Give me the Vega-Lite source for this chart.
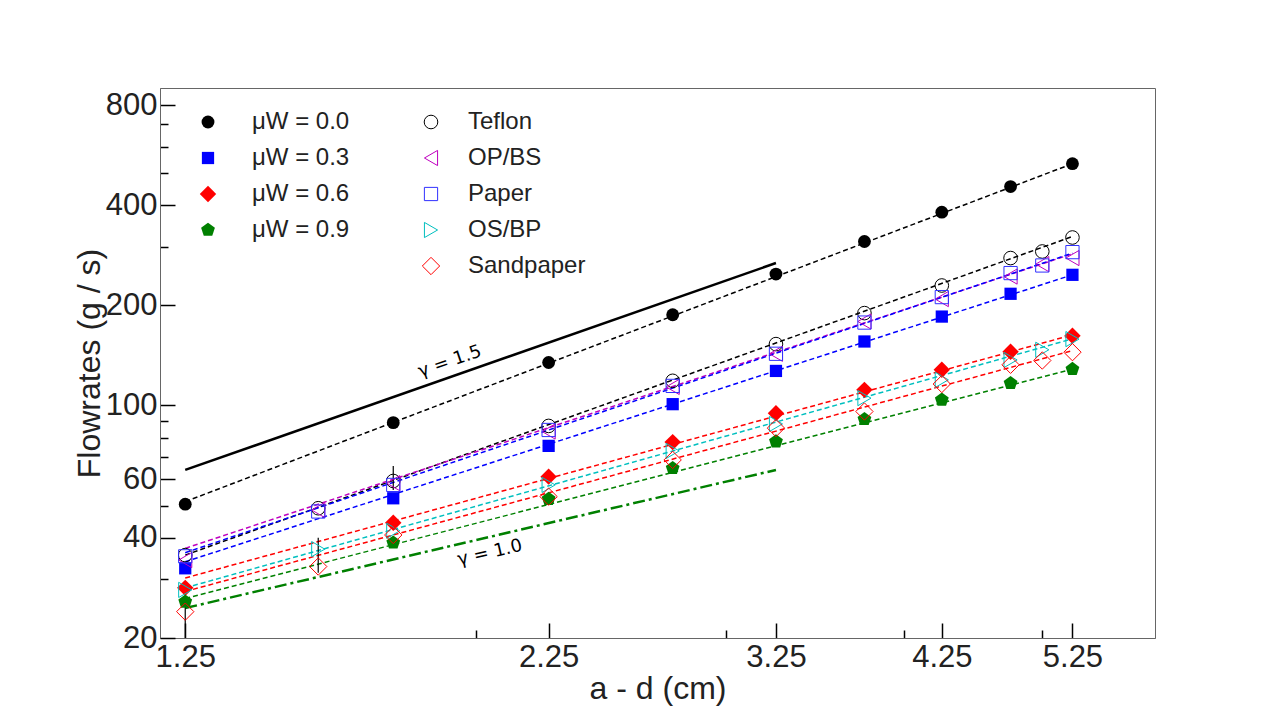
{
  "$schema": "https://vega.github.io/schema/vega-lite/v6.json",
  "description": "Flowrates versus a - d on log-log axes, with power-law fits.",
  "autosize": {"type": "none"},
  "width": 995,
  "height": 550,
  "padding": {"left": 160, "top": 88, "right": 125, "bottom": 82},
  "background": "white",
  "config": {
    "view": {"stroke": "#666666", "strokeWidth": 1},
    "font": "Liberation Sans",
    "axis": {"domainColor": "#666666", "tickColor": "black", "grid": false}
  },
  "datasets": {
    "pts": [
      {"g": "mu", "s": "μW = 0.0", "x": 1.25, "y": 50.5},
      {"g": "mu", "s": "μW = 0.0", "x": 1.75, "y": 88.8},
      {"g": "mu", "s": "μW = 0.0", "x": 2.25, "y": 134.6},
      {"g": "mu", "s": "μW = 0.0", "x": 2.75, "y": 187.3},
      {"g": "mu", "s": "μW = 0.0", "x": 3.25, "y": 248.3},
      {"g": "mu", "s": "μW = 0.0", "x": 3.75, "y": 311},
      {"g": "mu", "s": "μW = 0.0", "x": 4.25, "y": 381},
      {"g": "mu", "s": "μW = 0.0", "x": 4.75, "y": 455},
      {"g": "mu", "s": "μW = 0.0", "x": 5.25, "y": 533},
      {"g": "mu", "s": "μW = 0.3", "x": 1.25, "y": 32.4},
      {"g": "mu", "s": "μW = 0.3", "x": 1.75, "y": 52.6},
      {"g": "mu", "s": "μW = 0.3", "x": 2.25, "y": 75.6},
      {"g": "mu", "s": "μW = 0.3", "x": 2.75, "y": 100.9},
      {"g": "mu", "s": "μW = 0.3", "x": 3.25, "y": 127},
      {"g": "mu", "s": "μW = 0.3", "x": 3.75, "y": 155.7},
      {"g": "mu", "s": "μW = 0.3", "x": 4.25, "y": 185},
      {"g": "mu", "s": "μW = 0.3", "x": 4.75, "y": 216.6},
      {"g": "mu", "s": "μW = 0.3", "x": 5.25, "y": 247},
      {"g": "mu", "s": "μW = 0.6", "x": 1.25, "y": 28.3},
      {"g": "mu", "s": "μW = 0.6", "x": 1.75, "y": 44.4},
      {"g": "mu", "s": "μW = 0.6", "x": 2.25, "y": 61.1},
      {"g": "mu", "s": "μW = 0.6", "x": 2.75, "y": 77.6},
      {"g": "mu", "s": "μW = 0.6", "x": 3.25, "y": 94.8},
      {"g": "mu", "s": "μW = 0.6", "x": 3.75, "y": 111.4},
      {"g": "mu", "s": "μW = 0.6", "x": 4.25, "y": 128},
      {"g": "mu", "s": "μW = 0.6", "x": 4.75, "y": 145},
      {"g": "mu", "s": "μW = 0.6", "x": 5.25, "y": 162},
      {"g": "mu", "s": "μW = 0.9", "x": 1.25, "y": 25.7},
      {"g": "mu", "s": "μW = 0.9", "x": 1.75, "y": 38.7},
      {"g": "mu", "s": "μW = 0.9", "x": 2.25, "y": 52.3},
      {"g": "mu", "s": "μW = 0.9", "x": 2.75, "y": 64.8},
      {"g": "mu", "s": "μW = 0.9", "x": 3.25, "y": 77.9},
      {"g": "mu", "s": "μW = 0.9", "x": 3.75, "y": 90.9},
      {"g": "mu", "s": "μW = 0.9", "x": 4.25, "y": 104},
      {"g": "mu", "s": "μW = 0.9", "x": 4.75, "y": 116.7},
      {"g": "mu", "s": "μW = 0.9", "x": 5.25, "y": 128.6},
      {"g": "mat", "s": "Teflon", "x": 1.25, "y": 35.5},
      {"g": "mat", "s": "Teflon", "x": 1.55, "y": 49.1},
      {"g": "mat", "s": "Teflon", "x": 1.75, "y": 59.3},
      {"g": "mat", "s": "Teflon", "x": 2.25, "y": 86.8},
      {"g": "mat", "s": "Teflon", "x": 2.75, "y": 118.6},
      {"g": "mat", "s": "Teflon", "x": 3.25, "y": 152.9},
      {"g": "mat", "s": "Teflon", "x": 3.75, "y": 189.5},
      {"g": "mat", "s": "Teflon", "x": 4.25, "y": 229.4},
      {"g": "mat", "s": "Teflon", "x": 4.75, "y": 277.4},
      {"g": "mat", "s": "Teflon", "x": 5.0, "y": 290.3},
      {"g": "mat", "s": "Teflon", "x": 5.25, "y": 319.8},
      {"g": "mat", "s": "OP/BS", "x": 1.25, "y": 34.3},
      {"g": "mat", "s": "OP/BS", "x": 1.55, "y": 48.5},
      {"g": "mat", "s": "OP/BS", "x": 1.75, "y": 58.4},
      {"g": "mat", "s": "OP/BS", "x": 2.25, "y": 83.5},
      {"g": "mat", "s": "OP/BS", "x": 2.75, "y": 113.7},
      {"g": "mat", "s": "OP/BS", "x": 3.25, "y": 143},
      {"g": "mat", "s": "OP/BS", "x": 3.75, "y": 178.8},
      {"g": "mat", "s": "OP/BS", "x": 4.25, "y": 208.8},
      {"g": "mat", "s": "OP/BS", "x": 4.75, "y": 244},
      {"g": "mat", "s": "OP/BS", "x": 5.0, "y": 266},
      {"g": "mat", "s": "OP/BS", "x": 5.25, "y": 277.4},
      {"g": "mat", "s": "Paper", "x": 1.25, "y": 35.2},
      {"g": "mat", "s": "Paper", "x": 1.55, "y": 48},
      {"g": "mat", "s": "Paper", "x": 1.75, "y": 57.7},
      {"g": "mat", "s": "Paper", "x": 2.25, "y": 84.4},
      {"g": "mat", "s": "Paper", "x": 2.75, "y": 114.5},
      {"g": "mat", "s": "Paper", "x": 3.25, "y": 143},
      {"g": "mat", "s": "Paper", "x": 3.75, "y": 177.5},
      {"g": "mat", "s": "Paper", "x": 4.25, "y": 211.7},
      {"g": "mat", "s": "Paper", "x": 4.75, "y": 250},
      {"g": "mat", "s": "Paper", "x": 5.0, "y": 263.5},
      {"g": "mat", "s": "Paper", "x": 5.25, "y": 289},
      {"g": "mat", "s": "OS/BP", "x": 1.25, "y": 27.9},
      {"g": "mat", "s": "OS/BP", "x": 1.55, "y": 37},
      {"g": "mat", "s": "OS/BP", "x": 1.75, "y": 42},
      {"g": "mat", "s": "OS/BP", "x": 2.25, "y": 57.7},
      {"g": "mat", "s": "OS/BP", "x": 2.75, "y": 73},
      {"g": "mat", "s": "OS/BP", "x": 3.25, "y": 88},
      {"g": "mat", "s": "OS/BP", "x": 3.75, "y": 105.2},
      {"g": "mat", "s": "OS/BP", "x": 4.25, "y": 119.4},
      {"g": "mat", "s": "OS/BP", "x": 4.75, "y": 137},
      {"g": "mat", "s": "OS/BP", "x": 5.0, "y": 147},
      {"g": "mat", "s": "OS/BP", "x": 5.25, "y": 158.3},
      {"g": "mat", "s": "Sandpaper", "x": 1.25, "y": 24},
      {"g": "mat", "s": "Sandpaper", "x": 1.55, "y": 32.8},
      {"g": "mat", "s": "Sandpaper", "x": 1.75, "y": 40.8},
      {"g": "mat", "s": "Sandpaper", "x": 2.25, "y": 53.2},
      {"g": "mat", "s": "Sandpaper", "x": 2.75, "y": 68.6},
      {"g": "mat", "s": "Sandpaper", "x": 3.25, "y": 85.5},
      {"g": "mat", "s": "Sandpaper", "x": 3.75, "y": 95.9},
      {"g": "mat", "s": "Sandpaper", "x": 4.25, "y": 116},
      {"g": "mat", "s": "Sandpaper", "x": 4.75, "y": 132.5},
      {"g": "mat", "s": "Sandpaper", "x": 5.0, "y": 136.5},
      {"g": "mat", "s": "Sandpaper", "x": 5.25, "y": 144.6}
    ],
    "fits": [
      {"s": "μW = 0.0", "x": 1.25, "y": 51.4},
      {"s": "μW = 0.0", "x": 5.25, "y": 533},
      {"s": "μW = 0.3", "x": 1.25, "y": 33.9},
      {"s": "μW = 0.3", "x": 5.25, "y": 247},
      {"s": "μW = 0.6", "x": 1.25, "y": 30.3},
      {"s": "μW = 0.6", "x": 5.25, "y": 163},
      {"s": "μW = 0.9", "x": 1.25, "y": 26.3},
      {"s": "μW = 0.9", "x": 5.25, "y": 128.6},
      {"s": "Teflon", "x": 1.25, "y": 35.5},
      {"s": "Teflon", "x": 5.25, "y": 322},
      {"s": "OP/BS", "x": 1.25, "y": 37.2},
      {"s": "OP/BS", "x": 5.25, "y": 285.7},
      {"s": "Paper", "x": 1.25, "y": 36.1},
      {"s": "Paper", "x": 5.25, "y": 287},
      {"s": "OS/BP", "x": 1.25, "y": 28.3},
      {"s": "OS/BP", "x": 5.25, "y": 158.6},
      {"s": "Sandpaper", "x": 1.25, "y": 27.6},
      {"s": "Sandpaper", "x": 5.25, "y": 146.2}
    ],
    "gamma15": [
      {"x": 1.25, "y": 64},
      {"x": 3.25, "y": 268}
    ],
    "gamma10": [
      {"x": 1.25, "y": 24.6},
      {"x": 3.25, "y": 64}
    ],
    "err": [
      {"x": 1.25, "lo": 18, "hi": 26.5},
      {"x": 1.55, "lo": 31.4, "hi": 40},
      {"x": 1.75, "lo": 55.7, "hi": 65.8}
    ]
  },
  "encoding": {
    "x": {
      "field": "x",
      "type": "quantitative",
      "scale": {"type": "log", "domain": [1.2, 6], "nice": false},
      "axis": {
        "title": "a - d (cm)",
        "titleFontSize": 32,
        "titleFontWeight": "normal",
        "titleColor": "#222222",
        "titlePadding": -6,
        "values": [1.25, 2, 2.25, 3, 3.25, 4, 4.25, 5, 5.25],
        "labelExpr": "datum.value % 1 == 0.25 ? format(datum.value, '.2f') : ''",
        "labelFontSize": 31,
        "labelColor": "#222222",
        "labelPadding": 19,
        "labelFlush": false,
        "labelOverlap": false,
        "tickSize": {"condition": {"test": "datum.value % 1 == 0.25", "value": -15}, "value": -8},
        "tickWidth": 1.5
      }
    },
    "y": {
      "field": "y",
      "type": "quantitative",
      "scale": {"type": "log", "domain": [20, 900], "nice": false},
      "axis": {
        "title": "Flowrates (g / s)",
        "titleFontSize": 32,
        "titleFontWeight": "normal",
        "titleColor": "#222222",
        "titlePadding": -1,
        "values": [20, 30, 40, 50, 60, 70, 80, 90, 100, 200, 300, 400, 500, 600, 700, 800],
        "labelExpr": "indexof([20, 40, 60, 100, 200, 400, 800], datum.value) >= 0 ? format(datum.value, 'd') : ''",
        "labelFontSize": 31,
        "labelColor": "#222222",
        "labelPadding": 18,
        "labelFlush": false,
        "labelOverlap": false,
        "tickSize": {"condition": {"test": "indexof([20, 40, 60, 100, 200, 400, 800], datum.value) >= 0", "value": -15}, "value": -8},
        "tickWidth": 1.5
      }
    }
  },
  "layer": [
    {
      "data": {"name": "gamma15"},
      "mark": {"type": "line", "color": "black", "strokeWidth": 2.5}
    },
    {
      "data": {"name": "gamma10"},
      "mark": {"type": "line", "color": "#008000", "strokeWidth": 2.5, "strokeDash": [12, 4, 3, 4]}
    },
    {
      "data": {"name": "fits"},
      "mark": {"type": "line", "strokeWidth": 1.5, "strokeDash": [5, 3]},
      "encoding": {
        "detail": {"field": "s"},
        "color": {
          "field": "s",
          "type": "nominal",
          "scale": {
            "domain": ["μW = 0.0", "μW = 0.3", "μW = 0.6", "μW = 0.9", "Teflon", "OP/BS", "Paper", "OS/BP", "Sandpaper"],
            "range": ["black", "#0000ff", "#ff0000", "#008000", "black", "#bf00bf", "#0000ff", "#00bfbf", "#ff0000"]
          },
          "legend": null
        }
      }
    },
    {
      "data": {"name": "err"},
      "mark": {"type": "rule", "color": "black", "strokeWidth": 1.2, "clip": true},
      "encoding": {
        "y": {"field": "lo", "type": "quantitative"},
        "y2": {"field": "hi"}
      }
    },
    {
      "data": {"name": "pts"},
      "transform": [{"filter": "datum.g == 'mu'"}],
      "mark": {"type": "point", "filled": true, "opacity": 1},
      "encoding": {
        "color": {
          "field": "s",
          "type": "nominal",
          "scale": {
            "domain": ["μW = 0.0", "μW = 0.3", "μW = 0.6", "μW = 0.9"],
            "range": ["black", "#0000ff", "#ff0000", "#008000"]
          },
          "legend": {
            "title": null,
            "orient": "none",
            "legendX": 36,
            "legendY": 22,
            "labelFontSize": 24,
            "labelColor": "#222222",
            "labelOffset": 32,
            "rowPadding": 12,
            "padding": 0
          }
        },
        "shape": {
          "field": "s",
          "type": "nominal",
          "scale": {
            "domain": ["μW = 0.0", "μW = 0.3", "μW = 0.6", "μW = 0.9"],
            "range": ["circle", "square", "diamond", "M0,-1L0.951,-0.309L0.588,0.809L-0.588,0.809L-0.951,-0.309Z"]
          },
          "legend": {
            "title": null,
            "orient": "none",
            "legendX": 36,
            "legendY": 22,
            "labelFontSize": 24,
            "labelColor": "#222222",
            "labelOffset": 32,
            "rowPadding": 12,
            "padding": 0
          }
        },
        "size": {
          "field": "s",
          "type": "nominal",
          "scale": {
            "type": "ordinal",
            "domain": ["μW = 0.0", "μW = 0.3", "μW = 0.6", "μW = 0.9"],
            "range": [165, 150, 270, 210]
          },
          "legend": {
            "title": null,
            "orient": "none",
            "legendX": 36,
            "legendY": 22,
            "labelFontSize": 24,
            "labelColor": "#222222",
            "labelOffset": 32,
            "rowPadding": 12,
            "padding": 0
          }
        }
      }
    },
    {
      "data": {"name": "pts"},
      "transform": [{"filter": "datum.g == 'mat'"}],
      "mark": {"type": "point", "filled": false, "strokeWidth": 1, "opacity": 1},
      "encoding": {
        "color": {
          "field": "s",
          "type": "nominal",
          "scale": {
            "domain": ["Teflon", "OP/BS", "Paper", "OS/BP", "Sandpaper"],
            "range": ["black", "#bf00bf", "#3030ff", "#00bfbf", "#ff0000"]
          },
          "legend": {
            "title": null,
            "orient": "none",
            "legendX": 259,
            "legendY": 22,
            "labelFontSize": 24,
            "labelColor": "#222222",
            "labelOffset": 25,
            "rowPadding": 12,
            "symbolStrokeWidth": 1,
            "padding": 0
          }
        },
        "shape": {
          "field": "s",
          "type": "nominal",
          "scale": {
            "domain": ["Teflon", "OP/BS", "Paper", "OS/BP", "Sandpaper"],
            "range": ["circle", "triangle-left", "square", "triangle-right", "diamond"]
          },
          "legend": {
            "title": null,
            "orient": "none",
            "legendX": 259,
            "legendY": 22,
            "labelFontSize": 24,
            "labelColor": "#222222",
            "labelOffset": 25,
            "rowPadding": 12,
            "symbolStrokeWidth": 1,
            "padding": 0
          }
        },
        "size": {
          "field": "s",
          "type": "nominal",
          "scale": {
            "type": "ordinal",
            "domain": ["Teflon", "OP/BS", "Paper", "OS/BP", "Sandpaper"],
            "range": [185, 230, 175, 230, 300]
          },
          "legend": {
            "title": null,
            "orient": "none",
            "legendX": 259,
            "legendY": 22,
            "labelFontSize": 24,
            "labelColor": "#222222",
            "labelOffset": 25,
            "rowPadding": 12,
            "symbolStrokeWidth": 1,
            "padding": 0
          }
        }
      }
    },
    {
      "data": {"values": [{"x": 1.918, "y": 135.3, "t": "γ = 1.5"}]},
      "mark": {"type": "text", "font": "DejaVu Sans", "fontSize": 18, "angle": -19, "color": "black"},
      "encoding": {"text": {"field": "t"}}
    },
    {
      "data": {"values": [{"x": 2.046, "y": 36.0, "t": "γ = 1.0"}]},
      "mark": {"type": "text", "font": "DejaVu Sans", "fontSize": 18, "angle": -13, "color": "black"},
      "encoding": {"text": {"field": "t"}}
    }
  ],
  "resolve": {"scale": {"color": "independent", "shape": "independent", "size": "independent"}}
}
